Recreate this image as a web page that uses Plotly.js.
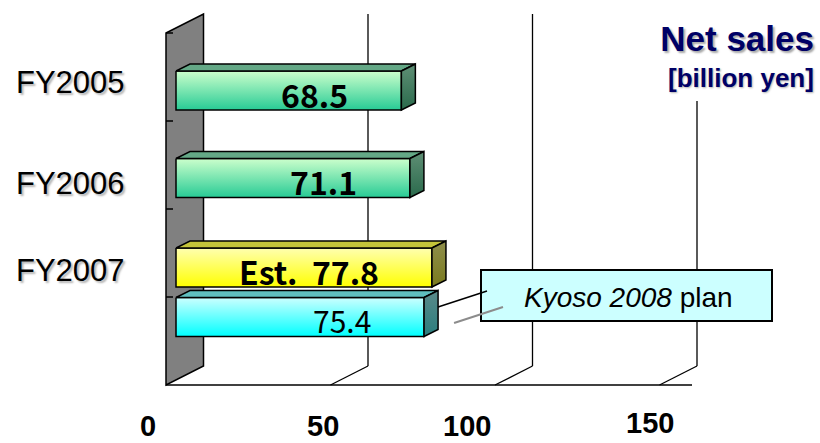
<!DOCTYPE html>
<html><head><meta charset="utf-8">
<script src="https://cdn.plot.ly/plotly-3.0.1.min.js"></script>
<style>html,body{margin:0;padding:0;background:#fff}</style>
</head><body>
<div id="chart" style="width:820px;height:443px"></div>
<script>
// ---------------- data ----------------
const categories = ['FY2005', 'FY2006', 'FY2007'];
const actualValues = [68.5, 71.1, null];
const estimateValues = [null, null, 77.8];
const planValues = [null, null, 75.4];
const actualLabels = ['68.5', '71.1', ''];
const estimateLabels = ['', '', 'Est.&nbsp;&nbsp;77.8'];
const planLabels = ['', '', '75.4'];
const tickValues = [0, 50, 100, 150];
const tickLabels = ['0', '50', '100', '150'];
const titleText = 'Net sales';
const unitText = '[billion yen]';
const planNoteItalic = 'Kyoso 2008';
const planNoteRest = 'plan';

// ---------------- geometry (layout only) ----------------
const W = 820, H = 443;
const PX_PER_UNIT = 3.29, PX_PER_CAT = 87.5;
const X0 = 176, Y0 = 90.5;
const ux = px => px / PX_PER_UNIT;
const uy = px => px / PX_PER_CAT;
const dataX = px => (px - X0) / PX_PER_UNIT;
const dataY = py => (py - Y0) / PX_PER_CAT;
const frontDx = ux(-10), backDx = ux(27.5);   // floor front plane / back wall plane
const barHalf = uy(19.5), depthX = ux(14), depthY = uy(7);

const series = [
  {values: actualValues, labels: actualLabels, offset: 0,
   front: ['#27CB95', '#CCFFCC'], top: '#64A886', side: ['#2A6A4C', '#5F8F75'], bold: true},
  {values: estimateValues, labels: estimateLabels, offset: uy(2),
   front: ['#FFFF00', '#FFFFB0'], top: '#C4C43A', side: ['#7A7A1E', '#8F8F4C'], bold: true},
  {values: planValues, labels: planLabels, offset: uy(51.5),
   front: ['#00FFFF', '#CCFFFF'], top: '#5FBFBF', side: ['#2A7E7E', '#5A8A8A'], bold: false}
];

const traces = [];
const annotations = [];
const line = {color: '#000', width: 1.5};
const valueFont = {family: 'Noto Sans CJK JP, DejaVu Sans', color: '#000'};

series.forEach(s => {
  s.values.forEach((v, i) => {
    if (v === null) return;
    const c = i + s.offset, t = c - barHalf, b = c + barHalf;
    traces.push({type: 'scatter', mode: 'lines', fill: 'toself', hoverinfo: 'skip', line,
      x: [0, v, v, 0, 0], y: [t, t, b, b, t],
      fillgradient: {type: 'vertical', colorscale: [[0, s.front[0]], [1, s.front[1]]]}});
    traces.push({type: 'scatter', mode: 'lines', fill: 'toself', hoverinfo: 'skip', line,
      x: [0, v, v + depthX, depthX, 0], y: [t, t, t - depthY, t - depthY, t],
      fillcolor: s.top});
    traces.push({type: 'scatter', mode: 'lines', fill: 'toself', hoverinfo: 'skip', line,
      x: [v, v + depthX, v + depthX, v, v], y: [t, t - depthY, b - depthY, b, t],
      fillgradient: {type: 'vertical', colorscale: [[0, s.side[0]], [1, s.side[1]]]}});
    annotations.push({x: v, y: c, xref: 'x', yref: 'y', xanchor: 'right', yanchor: 'middle',
      xshift: -51, yshift: -3, showarrow: false, text: s.labels[i],
      font: Object.assign({size: s.bold ? 32 : 30, weight: s.bold ? 'bold' : 'normal'}, valueFont)});
  });
});

// ---------------- frame shapes ----------------
const shapes = [];
const wallTop = dataY(33), wallBackTop = dataY(14), backFloor = dataY(366), frontFloor = dataY(385);
shapes.push({type: 'path', layer: 'below', xref: 'x', yref: 'y',
  path: `M ${frontDx} ${wallTop} L ${backDx} ${wallBackTop} L ${backDx} ${backFloor} L ${frontDx} ${frontFloor} Z`,
  fillcolor: '#808080', line: {color: '#000', width: 1.5}});
for (let k = 0; k < 4; k++) {
  const yy = dataY(33 + 88 * k);
  shapes.push({type: 'line', layer: 'below', xref: 'x', yref: 'y', x0: frontDx, x1: frontDx + ux(7),
    y0: yy, y1: yy, line: {color: '#000', width: 1.5}});
}
tickValues.slice(1).forEach(t => {
  const top = t >= 150 ? dataY(101) : wallBackTop;
  shapes.push({type: 'line', layer: 'below', xref: 'x', yref: 'y', x0: t + backDx, x1: t + backDx,
    y0: top, y1: backFloor, line: {color: '#000', width: 1.3}});
  shapes.push({type: 'line', layer: 'below', xref: 'x', yref: 'y', x0: t + backDx, x1: t + frontDx,
    y0: backFloor, y1: frontFloor, line: {color: '#000', width: 1.3}});
});
shapes.push({type: 'line', layer: 'below', xref: 'x', yref: 'y', x0: frontDx, x1: dataX(692),
  y0: frontFloor, y1: frontFloor, line: {color: '#000', width: 1.5}});

// plan call-out box and leader lines
const planC = 2 + series[2].offset, planV = planValues[2];
shapes.push({type: 'rect', layer: 'above', xref: 'x', yref: 'y', x0: dataX(481), x1: dataX(772),
  y0: dataY(270), y1: dataY(321), fillcolor: '#CCFFFF', line: {color: '#000', width: 2}});
shapes.push({type: 'line', layer: 'above', xref: 'x', yref: 'y', x0: planV + depthX, y0: planC - uy(10),
  x1: dataX(487), y1: dataY(291), line: {color: '#000', width: 1.5}});
shapes.push({type: 'line', layer: 'above', xref: 'x', yref: 'y', x0: planV + depthX + ux(16), y0: planC + uy(6),
  x1: dataX(503), y1: dataY(307), line: {color: '#8C8C8C', width: 2}});

annotations.push({xref: 'x', yref: 'y', x: dataX(628), y: dataY(297), showarrow: false,
  xanchor: 'center', yanchor: 'middle',
  text: `<i>${planNoteItalic}</i> ${planNoteRest}`,
  font: {family: 'Liberation Sans, Arial', size: 28, color: '#000'}});

// category labels
const labelPixelY = [82, 183, 270];
categories.forEach((c, i) => {
  annotations.push({xref: 'paper', yref: 'y', x: 70 / W, y: i, yshift: -(labelPixelY[i] - (Y0 + PX_PER_CAT * i)),
    xanchor: 'center', yanchor: 'middle', showarrow: false, text: c,
    font: {family: 'Liberation Sans, Arial', size: 31, color: '#000', shadow: '2px 2px 2px #b4b4b4'}});
});

// value-axis tick labels
const tickNudge = [-18, -8, -28, -10];
tickValues.forEach((t, i) => {
  annotations.push({xref: 'x', yref: 'y', x: t + frontDx, xshift: tickNudge[i],
    y: dataY(t >= 150 ? 423 : 426), xanchor: 'center', yanchor: 'middle', showarrow: false,
    text: tickLabels[i], font: {family: 'Liberation Sans, Arial', size: 29, weight: 'bold', color: '#000'}});
});

// unit line
annotations.push({xref: 'paper', yref: 'paper', x: 816 / W, y: 1 - 78 / H, xanchor: 'right', yanchor: 'middle',
  showarrow: false, text: unitText,
  font: {family: 'Liberation Sans, Arial', size: 26, weight: 'bold', color: '#000066', shadow: '1px 1px 2px #b0b0b0'}});

const layout = {
  width: W, height: H, margin: {l: 0, r: 0, t: 0, b: 0},
  paper_bgcolor: '#fff', plot_bgcolor: '#fff', showlegend: false,
  title: {text: titleText, xref: 'paper', yref: 'container', x: 814 / W, xanchor: 'right',
    y: 1 - 39 / H, yanchor: 'middle',
    font: {family: 'Liberation Sans, Arial', size: 35, weight: 'bold', color: '#000066', shadow: '2px 2px 2px #a8a8a8'}},
  xaxis: {range: [dataX(0), dataX(W)], visible: false, fixedrange: true},
  yaxis: {range: [dataY(H), dataY(0)], visible: false, fixedrange: true},
  shapes, annotations
};

Plotly.newPlot('chart', traces, layout, {staticPlot: true, displayModeBar: false});
</script>
</body></html>
